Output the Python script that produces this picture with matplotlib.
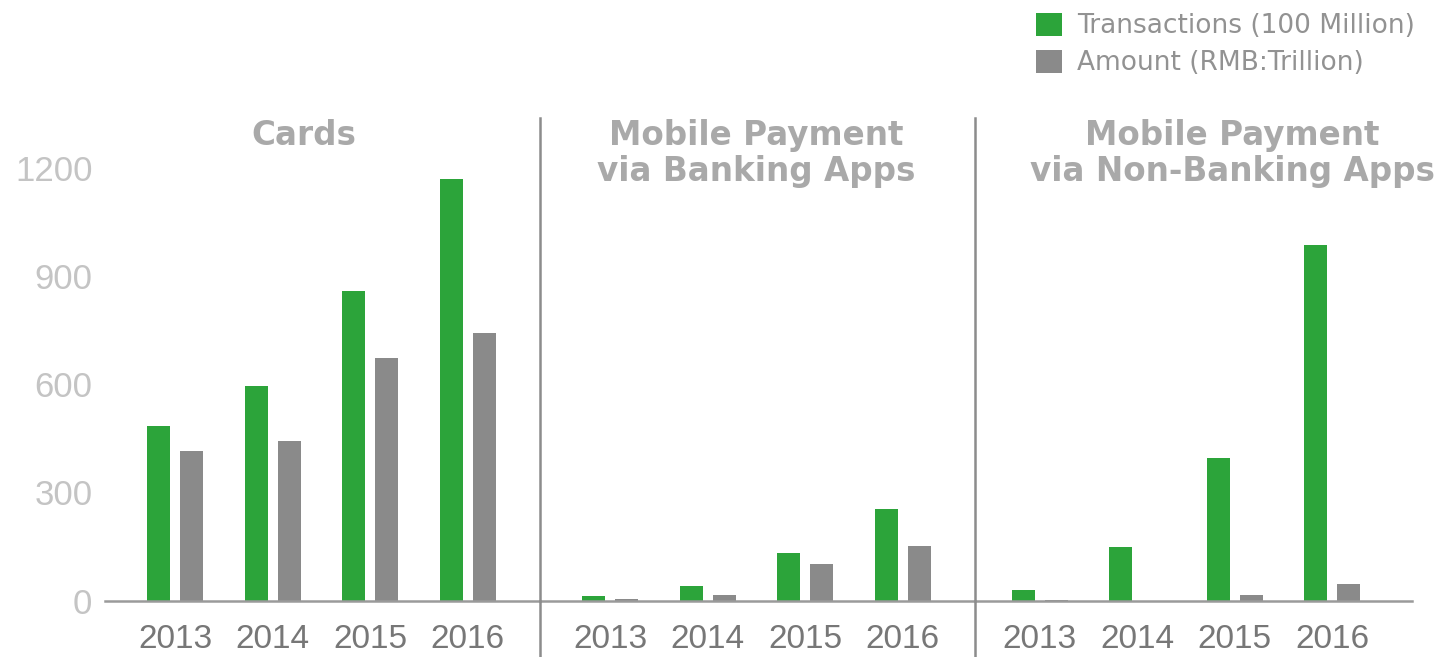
import matplotlib
matplotlib.use("Agg")
import matplotlib.pyplot as plt
from matplotlib.lines import Line2D
import numpy as np

# ---- data ----
years = ["2013", "2014", "2015", "2016"]
panel_titles = ["Cards", "Mobile Payment\nvia Banking Apps", "Mobile Payment\nvia Non-Banking Apps"]
transactions_cards = [483, 594, 858, 1170]
amount_cards = [416, 443, 673, 742]
transactions_bank = [13, 39, 133, 254]
amount_bank = [5, 14, 100, 152]
transactions_nonbank = [30, 149, 395, 986]
amount_nonbank = [1, 0, 14, 45]
y_ticks = [0, 300, 600, 900, 1200]
legend_labels = ["Transactions (100 Million)", "Amount (RMB:Trillion)"]

transactions = [transactions_cards, transactions_bank, transactions_nonbank]
amounts = [amount_cards, amount_bank, amount_nonbank]

GREEN = "#2ca43a"
GRAY = "#8a8a8a"

W, H = 1444, 657
fig = plt.figure(figsize=(W / 100, H / 100), dpi=100)

def fx(px):
    return px / W

def fy(py):
    return 1 - py / H

base_px = 600.5
top_px = 118
px_per_unit = (600.5 - 168) / 1200
spacing = 97.6

lefts = [105, 540, 975]
rights = [540, 975, 1412]
first_off = [70, 70, 64.5]
title_x = [304, 756, 1232]

x = np.arange(len(years))
bw = 23 / spacing
off = 16.5 / spacing

handles = []
for i in range(3):
    ax = fig.add_axes([fx(lefts[i]), fy(base_px), (rights[i] - lefts[i]) / W, (base_px - top_px) / H])
    ax.set_xlim(-first_off[i] / spacing, (rights[i] - lefts[i] - first_off[i]) / spacing)
    ax.set_ylim(0, (base_px - top_px) / px_per_unit)
    b1 = ax.bar(x - off, transactions[i], width=bw, color=GREEN, label=legend_labels[0])
    b2 = ax.bar(x + off, amounts[i], width=bw, color=GRAY, label=legend_labels[1])
    if i == 0:
        handles = [b1, b2]
    for s in ["top", "right", "left"]:
        ax.spines[s].set_visible(False)
    ax.spines["bottom"].set_color("#9a9a9a")
    ax.spines["bottom"].set_linewidth(1.8)
    ax.set_xticks(x)
    ax.set_xticklabels(years, fontsize=24, color="#777777", family="Liberation Sans")
    ax.tick_params(axis="x", length=0, pad=17)
    if i == 0:
        ax.set_yticks(y_ticks)
        ax.set_yticklabels([str(v) for v in y_ticks], fontsize=25, color="#c4c4c4",
                           family="Liberation Sans")
        ax.tick_params(axis="y", length=0, pad=9)
    else:
        ax.set_yticks([])
    ax.set_facecolor("none")
    fig.text(fx(title_x[i]), fy(119), panel_titles[i], ha="center", va="top",
             fontsize=23.5, fontweight="bold", color="#a9a9a9", family="DejaVu Sans",
             linespacing=1.1)

# divider lines
for xp in [540, 975]:
    fig.add_artist(Line2D([fx(xp), fx(xp)], [fy(118), fy(657)], color="#8c8c8c", linewidth=1.8,
                          transform=fig.transFigure))

leg = fig.legend(handles=handles, labels=legend_labels, loc="upper left",
                 bbox_to_anchor=(fx(1036), fy(13)), frameon=False, fontsize=19,
                 handlelength=1.0, handleheight=0.95, handletextpad=0.55,
                 labelspacing=0.4, borderpad=0, borderaxespad=0)
for t in leg.get_texts():
    t.set_color("#929292")
    t.set_family("DejaVu Sans")

fig.savefig("out.png", dpi=100)
